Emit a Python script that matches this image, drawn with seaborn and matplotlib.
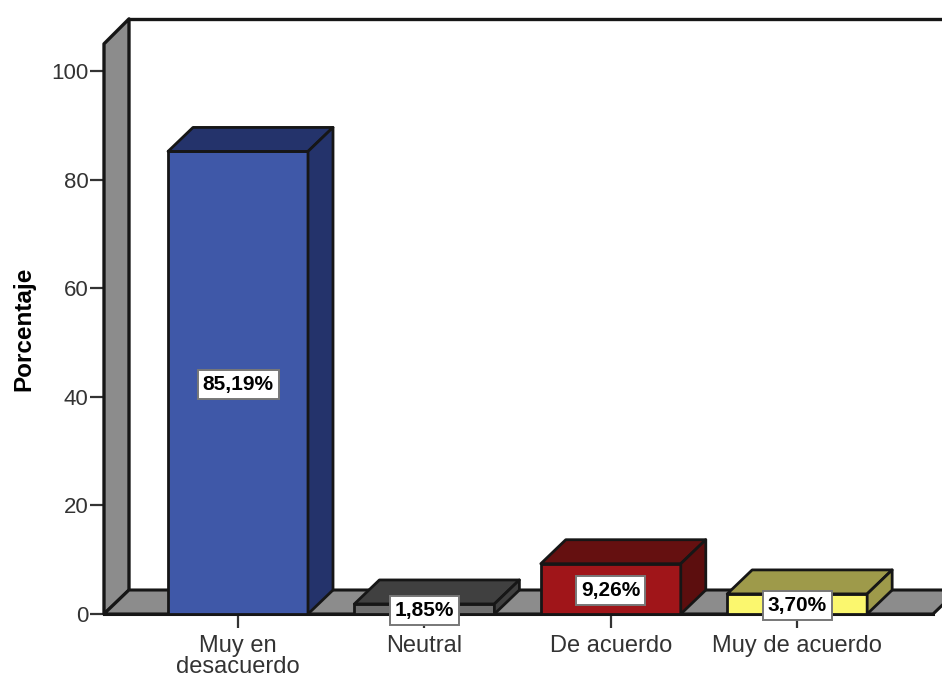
#!/usr/bin/env python3
"""Pseudo-3D bar chart of response percentages."""

import matplotlib
matplotlib.use('Agg')
import matplotlib.pyplot as plt
import seaborn as sns
from matplotlib.patches import Polygon

categories = ['Muy en\ndesacuerdo', 'Neutral', 'De acuerdo', 'Muy de acuerdo']
values = [85.19, 1.85, 9.26, 3.70]
value_labels = ['85,19%', '1,85%', '9,26%', '3,70%']
y_ticks = [0, 20, 40, 60, 80, 100]

front_colors = ['#3F58A8', '#6E6E6E', '#A01519', '#FBF76E']
top_colors = ['#24336B', '#404040', '#651010', '#9E9A4A']
side_colors = ['#24336B', '#404040', '#5C0E0E', '#9E9A4A']

WALL = '#8C8C8C'
EDGE = '#161616'

# depth of the fake 3D box, in data units
DX = 25 / 186.4
DY = 24 / 5.43
XMIN, XMAX = -0.719, 3.777
YMAX = 110
WALL_TOP = 105.0
WALL_BACK = 109.6
FLOOR_END = 3.729

sns.set_theme(style='white')
plt.rcParams['font.family'] = ['Liberation Sans', 'DejaVu Sans']

fig = plt.figure(figsize=(9.42, 6.77), dpi=100)
ax = fig.add_axes([104 / 942, 1 - 614 / 677, 838 / 942, 597.3 / 677])

sns.barplot(x=categories, y=values, hue=categories, palette=front_colors,
            width=0.751, saturation=1, edgecolor=EDGE, linewidth=2,
            legend=False, zorder=3, ax=ax)

ax.set_xlim(XMIN, XMAX)
ax.set_ylim(0, YMAX)

# left wall and floor
ax.add_patch(Polygon([(XMIN, 0), (XMIN, WALL_TOP), (XMIN + DX, WALL_BACK), (XMIN + DX, DY)],
                     fc=WALL, ec=EDGE, lw=2.4, zorder=1, clip_on=False, joinstyle='round'))
ax.add_patch(Polygon([(XMIN, 0), (XMIN + DX, DY), (FLOOR_END + DX, DY), (FLOOR_END, 0)],
                     fc=WALL, ec=EDGE, lw=2.2, zorder=1, joinstyle='round'))
ax.plot([XMIN + DX, XMAX], [WALL_BACK, WALL_BACK], color=EDGE, lw=2.4,
        zorder=1, clip_on=False)

# top and side face of every bar, taken from the bars seaborn drew
for bar, top, side in zip(ax.patches[:len(values)], top_colors, side_colors):
    x0, x1 = bar.get_x(), bar.get_x() + bar.get_width()
    h = bar.get_height()
    ax.add_patch(Polygon([(x0, h), (x0 + DX, h + DY), (x1 + DX, h + DY), (x1, h)],
                         fc=top, ec=EDGE, lw=2, zorder=3, joinstyle='round'))
    ax.add_patch(Polygon([(x1, 0), (x1, h), (x1 + DX, h + DY), (x1 + DX, DY)],
                         fc=side, ec=EDGE, lw=2, zorder=3, joinstyle='round'))

for i, (v, label) in enumerate(zip(values, value_labels)):
    ax.text(i, v / 2, label, ha='center', va='center_baseline', fontsize=15, fontweight='bold',
            color='black', zorder=5, clip_on=False,
            bbox=dict(boxstyle='square,pad=0.24', fc='white', ec='#777777', lw=1.4))

sns.despine(ax=ax, left=True, right=True, top=True, bottom=False)
ax.spines['bottom'].set_color(EDGE)
ax.spines['bottom'].set_linewidth(2.2)
ax.spines['bottom'].set_zorder(2)
ax.spines['bottom'].set_bounds(XMIN, FLOOR_END)

ax.set_yticks(y_ticks)
ax.set_yticklabels([str(t) for t in y_ticks])
ax.set_xticks(range(len(categories)))
ax.set_xticklabels(categories, linespacing=0.95)
ax.tick_params(axis='y', length=10, width=1.6, color='#333333', labelsize=16,
               labelcolor='#333333', pad=1, left=True)
ax.tick_params(axis='x', length=10, width=1.6, color='#333333', labelsize=17,
               labelcolor='#333333', pad=5, bottom=True)
ax.set_xlabel('')
ax.set_ylabel('')

fig.text(24 / 942, 1 - 329 / 677, 'Porcentaje', rotation=90, ha='center', va='center',
         fontsize=17.5, fontweight='bold', color='black')

fig.savefig('out.png', dpi=100)
